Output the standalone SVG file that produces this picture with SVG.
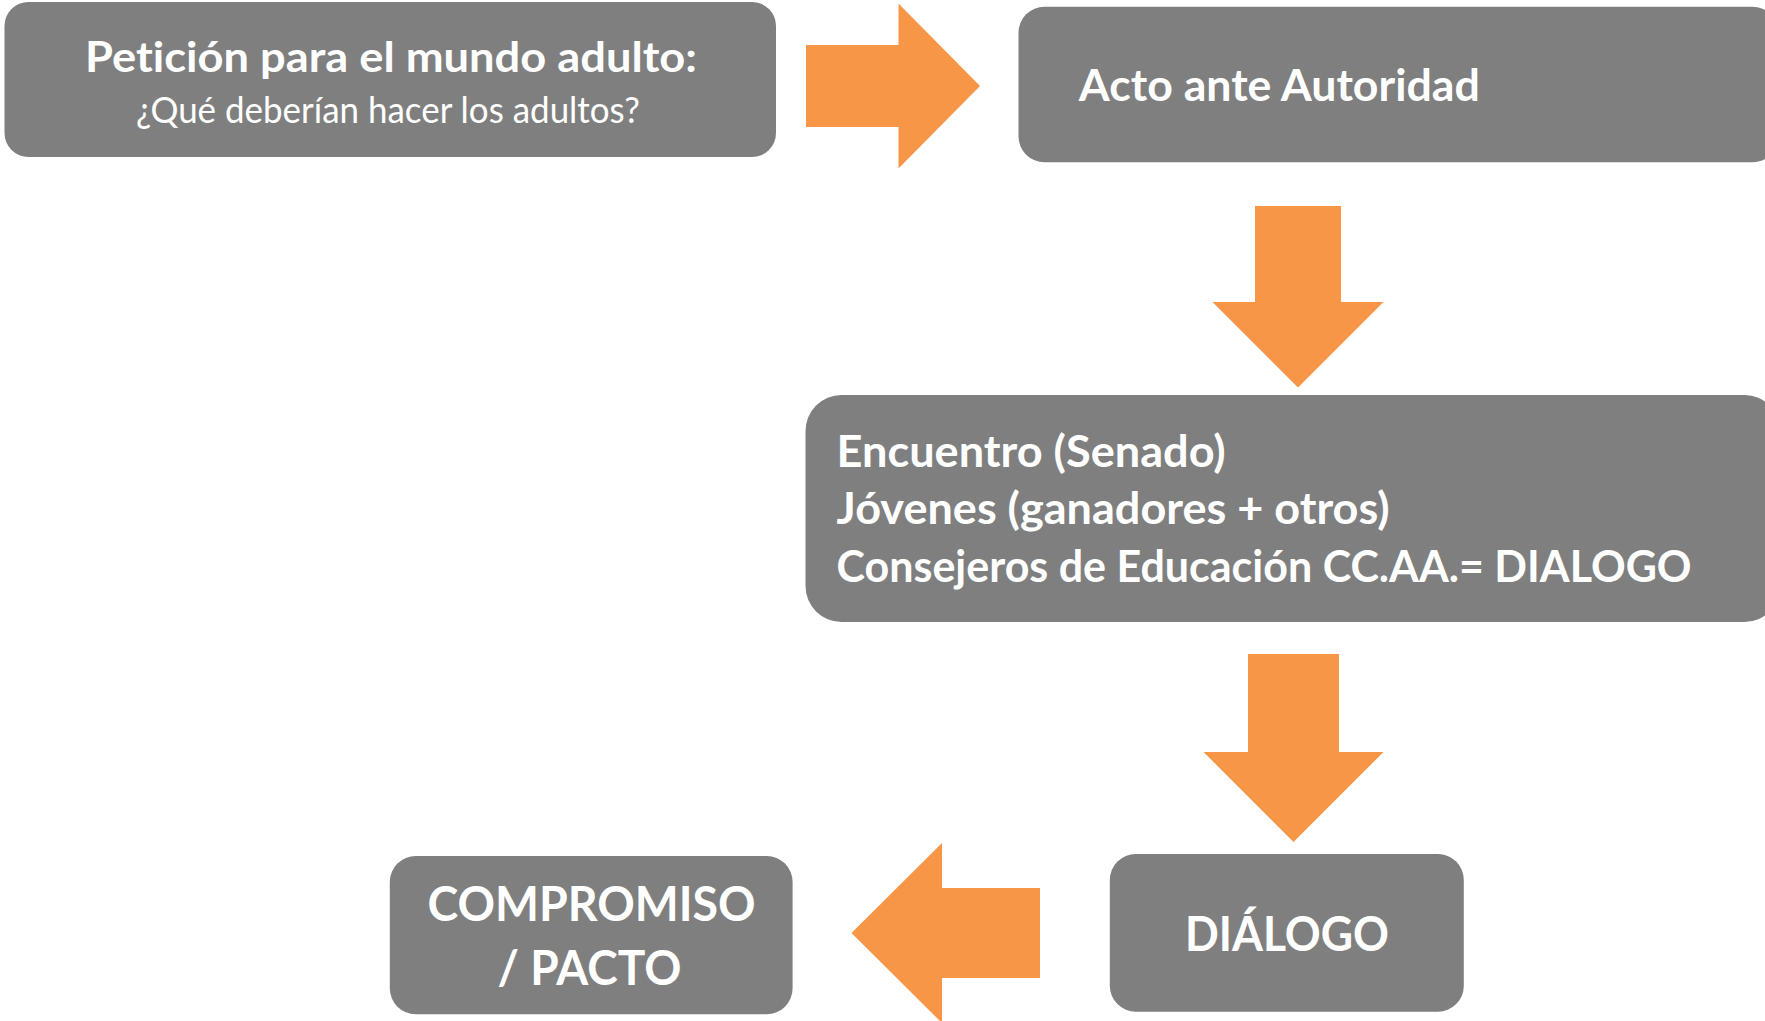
<svg xmlns="http://www.w3.org/2000/svg" width="1765" height="1021" viewBox="0 0 1765 1021">
<style>
.box{fill:#7F7F7F;}
.arrow{fill:#F79646;}
.t{font-family:Lato,"Open Sans","Liberation Sans",sans-serif;fill:#FFFFFF;font-weight:700;font-variant-ligatures:none;font-feature-settings:"liga" 0,"clig" 0;}
.r{font-weight:400;}
</style>
<rect width="1765" height="1021" fill="#FFFFFF"/>
<g id="connectors">
<polygon class="arrow" points="806,45 898.5,45 898.5,3.5 980,86 898.5,168.5 898.5,127 806,127"/>
<polygon class="arrow" points="1255,206 1341,206 1341,302 1383.5,302 1298,387.5 1212.5,302 1255,302"/>
<polygon class="arrow" points="1248,654 1339,654 1339,752 1383.5,752 1293.5,842 1203.5,752 1248,752"/>
<polygon class="arrow" points="1040,888 942,888 942,843 851.5,933 942,1023 942,978 1040,978"/>
</g>
<g id="node-peticion">
<rect class="box" x="4.5" y="2" width="771.5" height="155" rx="24" ry="24"/>
<text class="t" x="391" y="71.7" font-size="42" text-anchor="middle" textLength="612" lengthAdjust="spacingAndGlyphs">Petición para el mundo adulto:</text>
<text class="t r" x="388" y="122.7" font-size="37" text-anchor="middle" textLength="504" lengthAdjust="spacingAndGlyphs">¿Qué deberían hacer los adultos?</text>
</g>
<g id="node-acto">
<rect class="box" x="1018.5" y="6.7" width="760" height="155.6" rx="26" ry="26"/>
<text class="t" x="1078.8" y="100.7" font-size="44" textLength="401" lengthAdjust="spacingAndGlyphs">Acto ante Autoridad</text>
</g>
<g id="node-encuentro">
<rect class="box" x="805.5" y="395" width="975" height="227" rx="36" ry="36"/>
<text class="t" x="836.6" y="466.7" font-size="43" textLength="389" lengthAdjust="spacingAndGlyphs">Encuentro (Senado)</text>
<text class="t" x="836.6" y="524" font-size="43" textLength="553" lengthAdjust="spacingAndGlyphs">Jóvenes (ganadores + otros)</text>
<text class="t" x="836.6" y="581.7" font-size="43" textLength="855" lengthAdjust="spacingAndGlyphs">Consejeros de Educación CC.AA.= DIALOGO</text>
</g>
<g id="node-dialogo">
<rect class="box" x="1109.8" y="854" width="354" height="157.7" rx="26" ry="26"/>
<text class="t" x="1287" y="950.7" font-size="47" text-anchor="middle" textLength="204" lengthAdjust="spacingAndGlyphs">DIÁLOGO</text>
</g>
<g id="node-compromiso">
<rect class="box" x="389.8" y="856" width="402.8" height="158.3" rx="26" ry="26"/>
<text class="t" x="591.5" y="920.7" font-size="47" text-anchor="middle" textLength="328" lengthAdjust="spacingAndGlyphs">COMPROMISO</text>
<text class="t" x="589.5" y="985" font-size="47" text-anchor="middle" textLength="184" lengthAdjust="spacingAndGlyphs">/ PACTO</text>
</g>
</svg>
